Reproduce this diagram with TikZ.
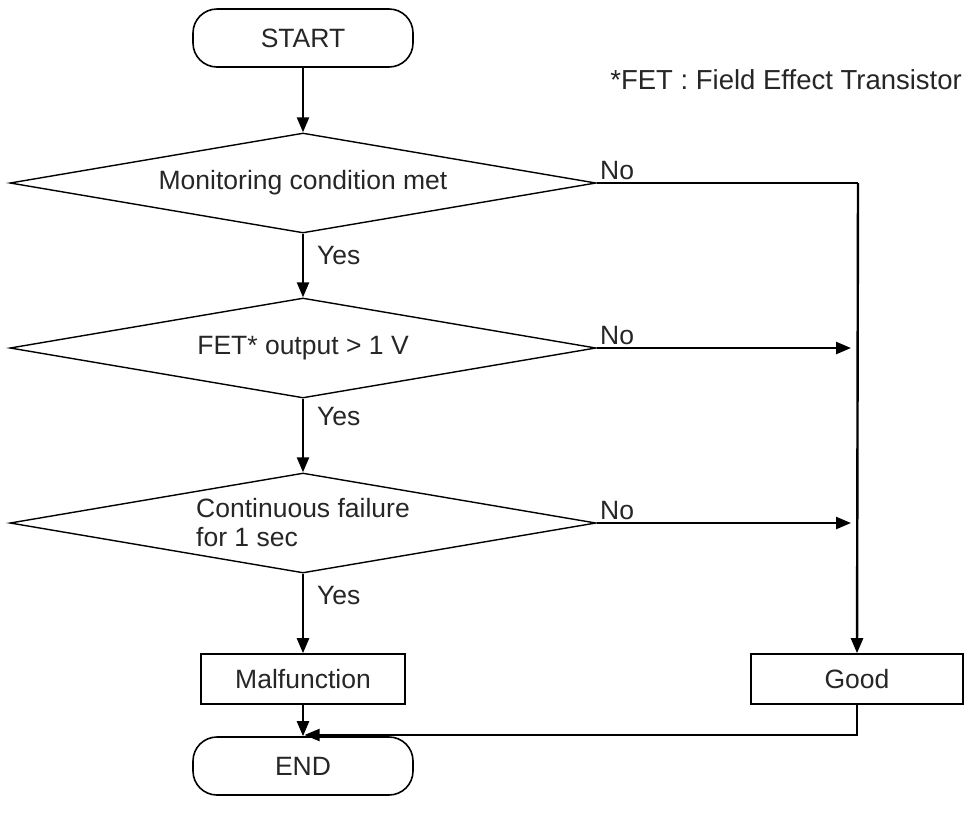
\documentclass[tikz,border=0pt]{standalone}
\usepackage{fontspec}
\setmainfont{Liberation Sans}
\usetikzlibrary{shapes.geometric,arrows.meta}
\begin{document}
\begin{tikzpicture}[x=1pt,y=-1pt,
  every node/.style={font=\fontsize{26.5}{29}\selectfont, text=black!85},
  term/.style={draw, line width=1.6pt, rounded corners=24pt, minimum width=220pt, minimum height=58pt, inner sep=0pt},
  decide/.style={draw, diamond, aspect=5.86, line width=1.4pt, minimum width=586pt, minimum height=100pt, inner sep=0pt},
  proc/.style={draw, line width=1.6pt, minimum width=204pt, minimum height=50pt, inner sep=0pt},
  lbl/.style={inner sep=0pt, anchor=south west},
  flow/.style={line width=2.4pt, -{Triangle[length=15pt,width=12pt]}},
  plain/.style={line width=2.0pt}
]
\useasboundingbox (0,0) rectangle (965,839);
\node[term] (start) at (303,38) {START};
\node[decide] (d1) at (303,183) {Monitoring condition met};
\node[decide] (d2) at (303,348) {FET* output > 1 V};
\node[decide, align=left] (d3) at (303,523) {Continuous failure\\for 1 sec};
\node[proc] (mal) at (303,679) {Malfunction};
\node[proc, minimum width=212pt] (good) at (857,679) {Good};
\node[term] (end) at (303,766) {END};
\node[inner sep=0pt, anchor=east, font=\fontsize{27.5}{30}\selectfont] (note) at (962,80) {*FET : Field Effect Transistor};

\coordinate (c1) at (858,183);
\coordinate (c2) at (858,348);
\coordinate (c3) at (858,523);
\coordinate (mj) at (303,735);

\draw[flow] (start) -- (d1.north);
\draw[flow] (d1.south) -- (d2.north);
\draw[flow] (d2.south) -- (d3.north);
\draw[flow] (d3.south) -- (mal.north);
\draw[flow] (mal.south) -- (end.north);
\draw[plain] (d1.east) -- (c1);
\draw[flow] (c1) -- (good.north);
\draw[flow, shorten >=7pt] (d2.east) -- (c2);
\draw[flow, shorten >=7pt] (d3.east) -- (c3);
\draw[line width=2.0pt, -{Triangle[length=15pt,width=12pt]}, shorten >=1.5pt] (good.south) |- (mj);

\node[lbl] (no1) at (600,180) {No};
\node[lbl] (no2) at (600,345) {No};
\node[lbl] (no3) at (600,520) {No};
\node[inner sep=0pt, anchor=west] (yes1) at (317,256) {Yes};
\node[inner sep=0pt, anchor=west] (yes2) at (317,417) {Yes};
\node[inner sep=0pt, anchor=west] (yes3) at (317,595) {Yes};
\end{tikzpicture}
\end{document}
